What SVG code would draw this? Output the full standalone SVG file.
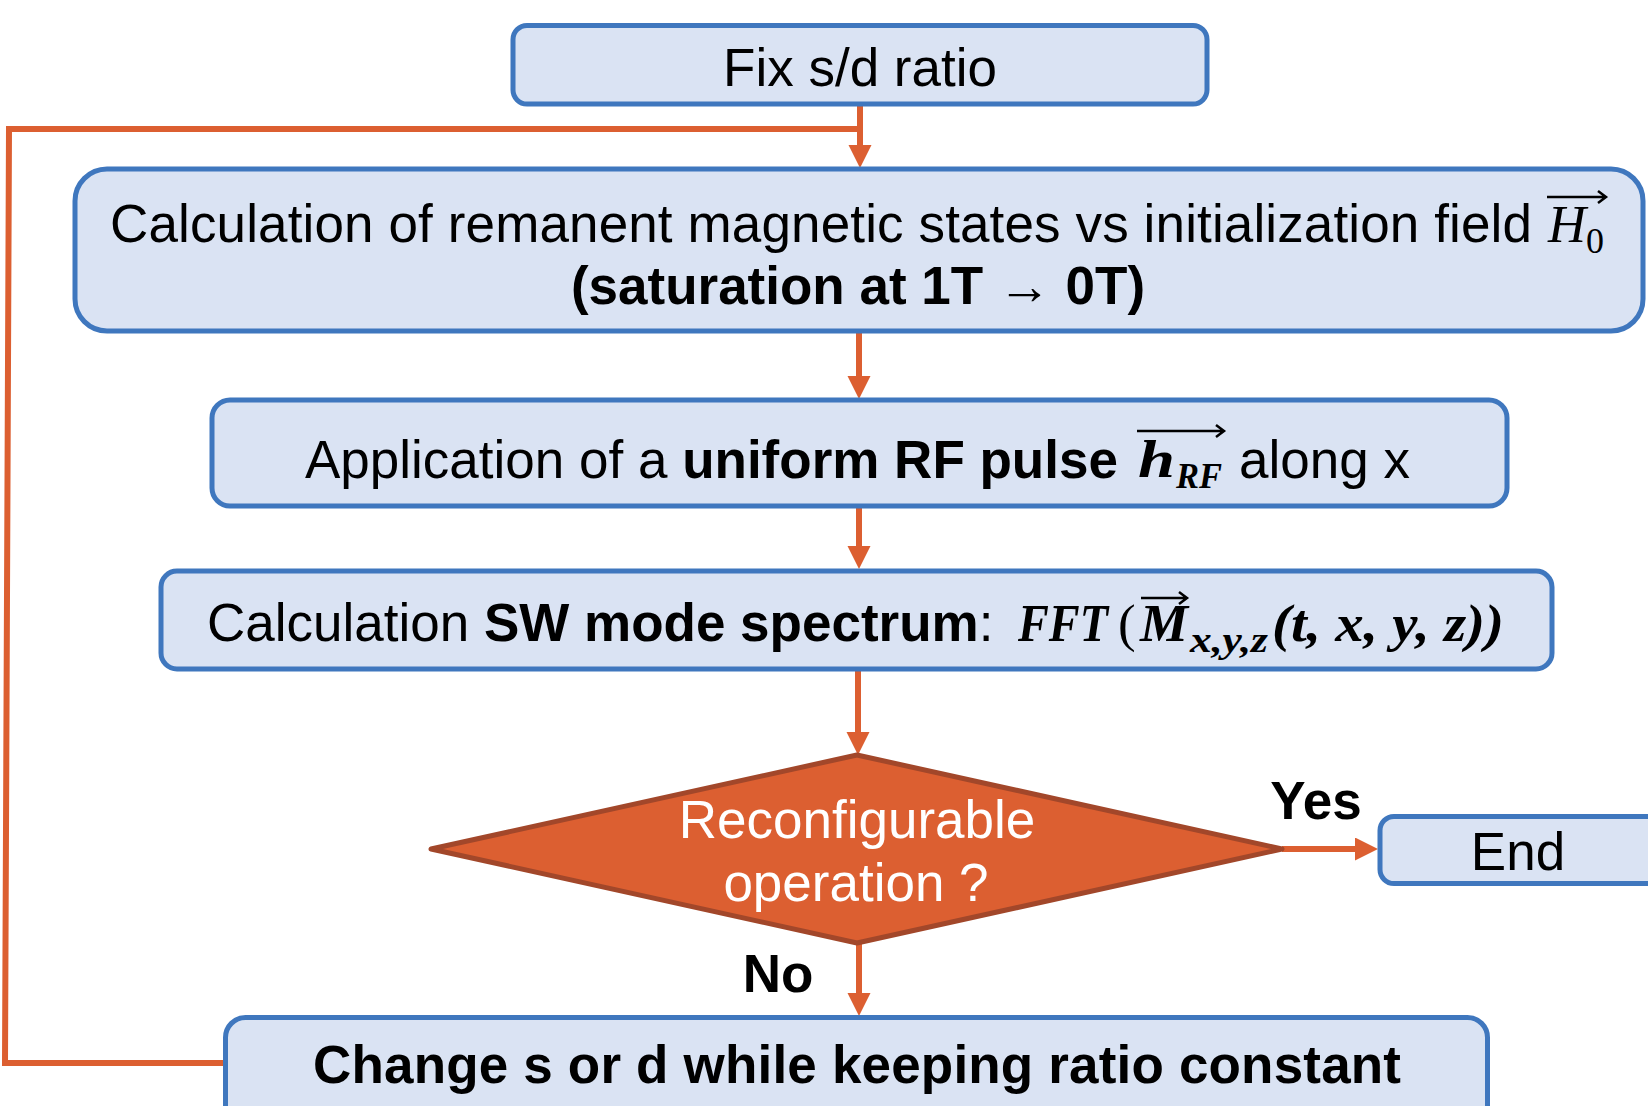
<svg xmlns="http://www.w3.org/2000/svg" width="1648" height="1106" viewBox="0 0 1648 1106">
<defs>
<style>
.box{fill:#DAE3F3;stroke:#3F77BE;stroke-width:5}
.t{font-family:"Liberation Sans",Arial,sans-serif;font-size:53px;fill:#000}
.b{font-weight:bold}
.m{font-family:"Liberation Serif","Times New Roman",serif;font-style:italic;fill:#000}
.up{font-style:normal}
.con{stroke:#DC5F31;stroke-width:6;fill:none}
.vec{stroke:#000;stroke-width:2.5;fill:none}
</style>
<marker id="ah" markerUnits="userSpaceOnUse" markerWidth="24" markerHeight="24" refX="0" refY="11.5" orient="auto">
<path d="M0,0 L23,11.5 L0,23 Z" fill="#DC5F31"/>
</marker>
</defs>
<rect width="1648" height="1106" fill="#fff"/>

<g id="connectors">
<polyline class="con" points="225,1063 5,1063 9,129 860,129" stroke-width="7"/>
<line class="con" x1="860" y1="106" x2="860" y2="145" marker-end="url(#ah)"/>
<line class="con" x1="859" y1="333" x2="859" y2="376" marker-end="url(#ah)"/>
<line class="con" x1="859" y1="508" x2="859" y2="546" marker-end="url(#ah)"/>
<line class="con" x1="858" y1="671" x2="858" y2="732" marker-end="url(#ah)"/>
<line class="con" x1="1282" y1="849" x2="1355" y2="849" marker-end="url(#ah)"/>
<line class="con" x1="859" y1="943" x2="859" y2="993" marker-end="url(#ah)"/>
</g>

<g id="fix">
<rect class="box" x="513" y="25.5" width="694" height="78.5" rx="14"/>
<text class="t" x="860" y="86" text-anchor="middle">Fix s/d ratio</text>
</g>

<g id="calc-remanent">
<rect class="box" x="75" y="169" width="1568" height="162" rx="32"/>
<text class="t" x="110" y="242" textLength="1422" lengthAdjust="spacing">Calculation of remanent magnetic states vs initialization field</text>
<text class="m" x="1548" y="242" font-size="52" textLength="38" lengthAdjust="spacingAndGlyphs">H</text>
<text class="m up" x="1586" y="253" font-size="36">0</text>
<path class="vec" d="M1547,197 H1605 M1598,191 L1606,197 L1598,203"/>
<text class="t b" x="858" y="304" text-anchor="middle">(saturation at 1T → 0T)</text>
</g>

<g id="rf-pulse">
<rect class="box" x="212" y="400" width="1295" height="106" rx="18"/>
<text class="t" x="305" y="478">Application of a <tspan class="b">uniform RF pulse</tspan></text>
<text class="m" x="1138" y="477" font-size="53" font-weight="bold" textLength="37" lengthAdjust="spacingAndGlyphs">h</text>
<text class="m" x="1176" y="488" font-size="36" font-weight="bold" textLength="46" lengthAdjust="spacingAndGlyphs">RF</text>
<path class="vec" d="M1137,431 H1223 M1216,425 L1224,431 L1216,437"/>
<text class="t" x="1239" y="478">along x</text>
</g>

<g id="sw-spectrum">
<rect class="box" x="161" y="571" width="1391" height="98" rx="16"/>
<text class="t" x="207" y="641">Calculation <tspan class="b">SW mode spectrum</tspan>:</text>
<text class="m" x="1018" y="641" font-size="53" font-weight="bold" textLength="90" lengthAdjust="spacingAndGlyphs">FFT</text>
<text class="m up" x="1118" y="641" font-size="53">(</text>
<text class="m" x="1140" y="641" font-size="53" font-weight="bold" textLength="48" lengthAdjust="spacingAndGlyphs">M</text>
<path class="vec" d="M1141,598 H1186 M1179,592 L1187,598 L1179,604"/>
<text class="m" x="1190" y="652" font-size="36" font-weight="bold" textLength="78" lengthAdjust="spacingAndGlyphs">x,y,z</text>
<text class="m" x="1272" y="641" font-size="53" font-weight="bold" textLength="232" lengthAdjust="spacingAndGlyphs">(t, x, y, z))</text>
</g>

<g id="decision">
<polygon points="431,849 857,755 1282,849 857,943" fill="#DC5F31" stroke="#A2472A" stroke-width="5" stroke-linejoin="round"/>
<text class="t" x="857" y="838" text-anchor="middle" style="fill:#fff">Reconfigurable</text>
<text class="t" x="856" y="901" text-anchor="middle" style="fill:#fff">operation ?</text>
</g>

<g id="labels">
<text class="t b" x="1316" y="819" text-anchor="middle">Yes</text>
<text class="t b" x="778" y="992" text-anchor="middle">No</text>
</g>

<g id="end">
<rect class="box" x="1380" y="816.5" width="300" height="67" rx="14"/>
<text class="t" x="1518" y="870" text-anchor="middle">End</text>
</g>

<g id="change">
<rect class="box" x="225.5" y="1017.5" width="1262" height="120" rx="20"/>
<text class="t b" x="857" y="1083" text-anchor="middle" textLength="1088" lengthAdjust="spacing">Change s or d while keeping ratio constant</text>
</g>
</svg>
